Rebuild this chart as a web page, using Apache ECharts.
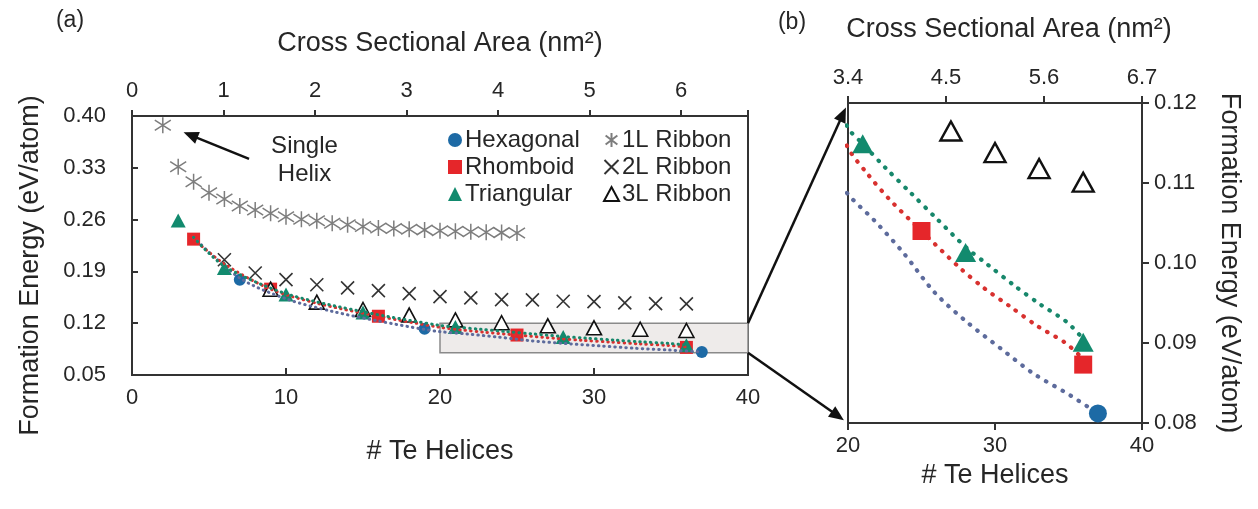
<!DOCTYPE html>
<html>
<head>
<meta charset="utf-8">
<script src="https://cdn.jsdelivr.net/npm/echarts@6/dist/echarts.min.js"></script>
<style>
  html, body { margin: 0; padding: 0; background: #fff; }
  #main { width: 1258px; height: 509px; }
</style>
</head>
<body>
<div id="main"></div>
<script>
// Formation energy (eV/atom) against the number of Te helices in a wire
const hexN = [7, 19, 37];
const hexE = [0.1788, 0.1125, 0.0812];
const rhoN = [4, 9, 16, 25, 36];
const rhoE = [0.2336, 0.1660, 0.1294, 0.1040, 0.0873];
const triN = [3, 6, 10, 15, 21, 28, 36];
const triE = [0.2587, 0.1946, 0.1587, 0.1345, 0.1149, 0.1013, 0.0901];

const rib1N = [2, 3, 4, 5, 6, 7, 8, 9, 10, 11, 12, 13, 14, 15, 16, 17, 18, 19, 20, 21, 22, 23, 24, 25];
const rib1E = [0.3875, 0.3313, 0.3112, 0.2964, 0.2879, 0.2785, 0.2731, 0.2686, 0.2640, 0.2605, 0.2583, 0.2552,
               0.2529, 0.2506, 0.2488, 0.2480, 0.2471, 0.2461, 0.2450, 0.2443, 0.2436, 0.2430, 0.2424, 0.2418];
const rib2N = [6, 8, 10, 12, 14, 16, 18, 20, 22, 24, 26, 28, 30, 32, 34, 36];
const rib2E = [0.2058, 0.1879, 0.1788, 0.1720, 0.1677, 0.1640, 0.1600, 0.1560, 0.1542, 0.1519, 0.1515, 0.1496,
               0.1492, 0.1475, 0.1465, 0.1462];
const rib3N = [9, 12, 15, 18, 21, 24, 27, 30, 33, 36];
const rib3E = [0.1660, 0.1485, 0.1385, 0.1310, 0.1245, 0.1206, 0.1165, 0.1138, 0.1118, 0.1101];

// Dotted fit curves
const fitHexN = [4, 7, 10, 13, 16, 19, 20, 21.8, 23.8, 25.9, 28.1, 30.4, 32.6, 34.9, 37];
const fitHexE = [0.236, 0.181, 0.153, 0.136, 0.123, 0.1115, 0.1086, 0.1053, 0.1012, 0.0963, 0.0926, 0.0893, 0.0862, 0.0837, 0.0812];
const fitRhoN = [4, 6, 9, 12, 16, 20, 21.3, 22.9, 25, 27.6, 29.3, 31, 32.9, 34.8, 36];
const fitRhoE = [0.2336, 0.200, 0.166, 0.147, 0.1294, 0.1144, 0.1112, 0.1078, 0.1040, 0.0994, 0.0968, 0.0946, 0.0921, 0.0900, 0.0880];
const fitTriN = [4, 6, 10, 15, 20, 21, 22.6, 24.3, 26, 28, 29.5, 31.3, 33.1, 34.9, 36];
const fitTriE = [0.236, 0.197, 0.160, 0.1355, 0.1169, 0.1149, 0.1118, 0.1087, 0.1056, 0.1020, 0.0998, 0.0972, 0.0948, 0.0926, 0.0905];

// Axis ranges and ticks
const helixRange = [0, 40];
const energyRange = [0.05, 0.40];
const energyStep = 0.07;
const areaMax = 6.73;                 // nm² at 40 helices
const zoomHelix = [20, 40];           // inset window (b)
const zoomEnergy = [0.08, 0.12];
const zoomAreaTicks = [3.4, 4.5, 5.6, 6.7];

const FONT = "'Liberation Sans', Arial, Helvetica, sans-serif";
const INK = '#262626';
const AXIS = '#333';
const BLUE = '#1d6aa5', RED = '#e5262a', TEAL = '#128a6e';
const FIT_BLUE = '#5d6b9c', FIT_RED = '#d8312f', FIT_TEAL = '#17876b';

const ASTERISK = 'path://M5,0L5,10M0.8,1.8L9.2,8.2M9.2,1.8L0.8,8.2';
const CROSS = 'path://M0,0L10,10M10,0L0,10';

const pair = (xs, ys) => xs.map((x, i) => [x, ys[i]]);

function markerSeries(xi, yi, s) {
  const base = { type: 'scatter', xAxisIndex: xi, yAxisIndex: yi, silent: true, clip: true };
  return [
    Object.assign({}, base, { name: '1L Ribbon', data: pair(rib1N, rib1E), symbol: ASTERISK, symbolSize: s.ast,
      itemStyle: { color: 'rgba(0,0,0,0)', borderColor: '#7d7d7d', borderWidth: 1.5, opacity: 1 }, z: 3 }),
    Object.assign({}, base, { name: '2L Ribbon', data: pair(rib2N, rib2E), symbol: CROSS, symbolSize: s.cross,
      itemStyle: { color: 'rgba(0,0,0,0)', borderColor: '#333', borderWidth: 1.6, opacity: 1 }, z: 3 }),
    Object.assign({}, base, { name: 'Rhomboid', data: pair(rhoN, rhoE), symbol: 'rect', symbolSize: s.sq,
      itemStyle: { color: RED, opacity: 1 }, z: 4 }),
    Object.assign({}, base, { name: '3L Ribbon', data: pair(rib3N, rib3E), symbol: 'triangle', symbolSize: s.tri,
      itemStyle: { color: '#fff', borderColor: '#111', borderWidth: s.triBorder, opacity: 1 }, z: 5 }),
    Object.assign({}, base, { name: 'Triangular', data: pair(triN, triE), symbol: 'triangle', symbolSize: s.tri,
      itemStyle: { color: TEAL, opacity: 1 }, z: 6 }),
    Object.assign({}, base, { name: 'Hexagonal', data: pair(hexN, hexE), symbol: 'circle', symbolSize: s.circ,
      itemStyle: { color: BLUE, opacity: 1 }, z: 6 })
  ];
}

function fitSeries(xi, yi, w, gap, z) {
  const mk = (name, xs, ys, color) => ({
    name, type: 'line', xAxisIndex: xi, yAxisIndex: yi, data: pair(xs, ys), smooth: 0.3,
    showSymbol: false, silent: true, clip: true, z,
    lineStyle: { color, width: w, type: [0.5, gap], cap: 'round', opacity: 1 }
  });
  return [
    mk('fitHex', fitHexN, fitHexE, FIT_BLUE),
    mk('fitRho', fitRhoN, fitRhoE, FIT_RED),
    mk('fitTri', fitTriN, fitTriE, FIT_TEAL)
  ];
}

const labelStyle = { color: INK, fontSize: 22, fontFamily: FONT };
const nameStyle = { color: INK, fontSize: 27, fontFamily: FONT };
const line = { show: true, lineStyle: { color: AXIS, width: 2 } };
const noSplit = { show: false };

const option = {
  animation: false,
  backgroundColor: '#fff',
  textStyle: { fontFamily: FONT },
  grid: [
    { left: 132, top: 116, width: 616, height: 259, show: true, borderColor: AXIS, borderWidth: 2, backgroundColor: 'rgba(0,0,0,0)' },
    { left: 848, top: 103, width: 294, height: 320, show: true, borderColor: AXIS, borderWidth: 2, backgroundColor: 'rgba(0,0,0,0)' }
  ],
  xAxis: [
    { gridIndex: 0, type: 'value', position: 'bottom', min: helixRange[0], max: helixRange[1], interval: 10,
      name: '# Te Helices', nameLocation: 'middle', nameGap: 63, nameTextStyle: nameStyle,
      axisLine: line, axisTick: { inside: true, length: 7, lineStyle: { color: AXIS, width: 2 } },
      axisLabel: Object.assign({ margin: 12 }, labelStyle), splitLine: noSplit },
    { gridIndex: 0, type: 'value', position: 'top', min: 0, max: areaMax, interval: 1,
      name: 'Cross Sectional Area (nm²)', nameLocation: 'middle', nameGap: 59, nameTextStyle: nameStyle,
      axisLine: line, axisTick: { inside: false, length: 6, lineStyle: { color: AXIS, width: 2 } },
      axisLabel: Object.assign({ margin: 14, formatter: v => Math.abs(v - Math.round(v)) < 1e-6 ? String(Math.round(v)) : '' }, labelStyle),
      splitLine: noSplit },
    { gridIndex: 1, type: 'value', position: 'bottom', min: zoomHelix[0], max: zoomHelix[1], interval: 10,
      name: '# Te Helices', nameLocation: 'middle', nameGap: 35, nameTextStyle: nameStyle,
      axisLine: line, axisTick: { inside: false, length: 7, lineStyle: { color: AXIS, width: 2 } },
      axisLabel: Object.assign({ margin: 12 }, labelStyle), splitLine: noSplit },
    { gridIndex: 1, type: 'value', position: 'top', min: zoomAreaTicks[0], max: zoomAreaTicks[zoomAreaTicks.length - 1],
      interval: +(zoomAreaTicks[1] - zoomAreaTicks[0]).toFixed(2),
      name: 'Cross Sectional Area (nm²)', nameLocation: 'middle', nameGap: 60,
      nameTextStyle: Object.assign({ padding: [0, 0, 0, 28] }, nameStyle),
      axisLine: line, axisTick: { inside: false, length: 7, lineStyle: { color: AXIS, width: 2 } },
      axisLabel: Object.assign({ margin: 14, formatter: v => v.toFixed(1) }, labelStyle), splitLine: noSplit }
  ],
  yAxis: [
    { gridIndex: 0, type: 'value', min: energyRange[0], max: energyRange[1], interval: energyStep,
      name: 'Formation Energy (eV/atom)', nameLocation: 'middle', nameGap: 88,
      nameTextStyle: Object.assign({ padding: [0, 40, 0, 0] }, nameStyle),
      axisLine: line, axisTick: { inside: true, length: 6, lineStyle: { color: AXIS, width: 2 } },
      axisLabel: Object.assign({ margin: 26, formatter: v => v.toFixed(2) }, labelStyle), splitLine: noSplit },
    { gridIndex: 1, type: 'value', position: 'right', min: zoomEnergy[0], max: zoomEnergy[1], interval: 0.01,
      name: 'Formation Energy (eV/atom)', nameLocation: 'middle', nameRotate: -90, nameGap: 74, nameTextStyle: nameStyle,
      axisLine: line, axisTick: { inside: false, length: 7, lineStyle: { color: AXIS, width: 2 } },
      axisLabel: Object.assign({ margin: 12, formatter: v => v.toFixed(2) }, labelStyle), splitLine: noSplit }
  ],
  legend: [
    { left: 443, top: 123, orient: 'vertical', itemWidth: 14, itemHeight: 14, itemGap: 3, selectedMode: false,
      textStyle: { color: INK, fontSize: 24, fontFamily: FONT, padding: [0, 0, 0, -2] },
      data: ['Hexagonal', 'Rhomboid', 'Triangular'] },
    { left: 598, top: 123, orient: 'vertical', itemWidth: 15, itemHeight: 14, itemGap: 3, selectedMode: false,
      textStyle: { color: INK, fontSize: 24, fontFamily: FONT, padding: [0, 0, 0, -2] },
      data: ['1L Ribbon', '2L Ribbon', '3L Ribbon'] }
  ],
  series: [].concat(
    [{ name: 'window', type: 'scatter', xAxisIndex: 0, yAxisIndex: 0, data: [], silent: true, z: 1,
       markArea: { silent: true, itemStyle: { color: '#eeebea', borderColor: '#8a8a8a', borderWidth: 1.5, opacity: 1 },
         data: [[{ coord: [zoomHelix[0], zoomEnergy[0]] }, { coord: [zoomHelix[1], zoomEnergy[1]] }]] } }],
    markerSeries(0, 0, { ast: 16, cross: 13, sq: 13, tri: [15, 14], triBorder: 1.6, circ: 12 }),
    fitSeries(0, 0, 3, 5, 8),
    markerSeries(2, 1, { ast: 18, cross: 16, sq: 18, tri: [21, 19], triBorder: 2.4, circ: 18 }),
    fitSeries(2, 1, 4.2, 9, 2)
  )
};

const chart = echarts.init(document.getElementById('main'), null, { renderer: 'canvas' });
chart.setOption(option);

// Annotations placed through the axes of each panel
const LEFT_SERIES = 0;
const RIGHT_SERIES = 1 + 6 + 3;
const toPx = (si, pt) => chart.convertToPixel({ seriesIndex: si }, pt);

function arrow(from, to, head, width, color) {
  const dx = to[0] - from[0], dy = to[1] - from[1];
  const len = Math.hypot(dx, dy), ux = dx / len, uy = dy / len;
  const bx = to[0] - ux * head, by = to[1] - uy * head, hw = head * 0.42;
  return [
    { type: 'line', silent: true, z: 20, shape: { x1: from[0], y1: from[1], x2: bx + ux, y2: by + uy },
      style: { stroke: color, lineWidth: width } },
    { type: 'polygon', silent: true, z: 20,
      shape: { points: [[to[0], to[1]], [bx - uy * hw, by + ux * hw], [bx + uy * hw, by - ux * hw]] },
      style: { fill: color } }
  ];
}
function pullBack(from, to, d) {
  const dx = to[0] - from[0], dy = to[1] - from[1], len = Math.hypot(dx, dy);
  return [to[0] - dx / len * d, to[1] - dy / len * d];
}

const topFrom = toPx(LEFT_SERIES, [zoomHelix[1], zoomEnergy[1]]);
const topTo = toPx(RIGHT_SERIES, [zoomHelix[0], zoomEnergy[1]]);
const botFrom = toPx(LEFT_SERIES, [zoomHelix[1], zoomEnergy[0]]);
const botTo = toPx(RIGHT_SERIES, [zoomHelix[0], zoomEnergy[0]]);
const helixTail = toPx(LEFT_SERIES, [7.6, 0.342]);
const helixHead = toPx(LEFT_SERIES, [3.35, 0.378]);
const helixText = toPx(LEFT_SERIES, [11.2, 0.3405]);

const elements = [].concat(
  arrow(topFrom, pullBack(topFrom, topTo, 5), 15, 2.5, '#111'),
  arrow(botFrom, pullBack(botFrom, botTo, 5), 15, 2.5, '#111'),
  arrow(helixTail, helixHead, 15, 2.5, '#111'),
  [
    { type: 'text', silent: true, z: 20, x: helixText[0], y: helixText[1],
      style: { text: 'Single\nHelix', fill: INK, font: '24px ' + FONT, align: 'center', verticalAlign: 'middle', lineHeight: 28 } },
    { type: 'text', silent: true, z: 20, x: 70, y: 21,
      style: { text: '(a)', fill: INK, font: '23px ' + FONT, align: 'center', verticalAlign: 'middle' } },
    { type: 'text', silent: true, z: 20, x: 792, y: 23,
      style: { text: '(b)', fill: INK, font: '23px ' + FONT, align: 'center', verticalAlign: 'middle' } }
  ]
);
chart.setOption({ graphic: elements });
</script>
</body>
</html>
